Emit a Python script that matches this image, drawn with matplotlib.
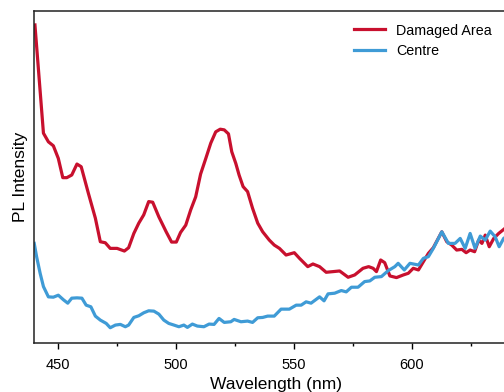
import matplotlib
matplotlib.use("Agg")
import matplotlib.pyplot as plt
from matplotlib.ticker import MultipleLocator

plt.rcParams["font.family"] = ["Liberation Sans", "DejaVu Sans"]

# PL spectra, intensity in arbitrary units
damaged_nm = [440.4, 444.0, 446.1, 448.2, 450.3, 452.2, 453.9, 456.0, 458.2, 460.0,
              463.0, 466.0, 468.1, 470.2, 472.3, 475.2, 478.3, 480.1, 482.3, 484.4,
              486.5, 488.6, 490.3, 492.9, 496.0, 498.3, 500.3, 502.1, 504.3, 506.4,
              508.5, 510.6, 512.8, 514.9, 517.0, 518.9, 520.6, 522.4, 523.8, 525.5,
              526.9, 528.6, 530.5, 532.6, 534.8, 536.9, 539.7, 541.8, 544.0, 546.8,
              550.3, 552.5, 556.0, 558.2, 561.0, 563.8, 566.7, 569.5, 573.1, 575.9,
              579.4, 581.8, 583.7, 585.1, 586.9, 588.6, 590.8, 593.6, 596.5, 598.6,
              600.7, 602.9, 605.0, 607.1, 609.2, 612.8, 614.9, 617.0, 619.1, 621.3,
              623.1, 624.8, 626.7, 628.4, 629.8, 631.2, 632.9, 634.8, 636.9, 639.0,
              640.0]
damaged_pl = [0.958, 0.632, 0.606, 0.594, 0.556, 0.498, 0.498, 0.506, 0.539, 0.531,
              0.452, 0.376, 0.305, 0.302, 0.285, 0.285, 0.277, 0.287, 0.330, 0.361,
              0.386, 0.426, 0.424, 0.380, 0.335, 0.304, 0.304, 0.333, 0.355, 0.401,
              0.440, 0.509, 0.556, 0.602, 0.636, 0.644, 0.642, 0.630, 0.576, 0.541,
              0.506, 0.471, 0.456, 0.406, 0.361, 0.335, 0.310, 0.295, 0.285, 0.265,
              0.272, 0.255, 0.230, 0.238, 0.230, 0.213, 0.215, 0.217, 0.198, 0.205,
              0.225, 0.230, 0.225, 0.215, 0.250, 0.242, 0.202, 0.197, 0.205, 0.210,
              0.225, 0.220, 0.245, 0.270, 0.287, 0.335, 0.305, 0.295, 0.280, 0.282,
              0.272, 0.280, 0.275, 0.310, 0.300, 0.325, 0.290, 0.315, 0.330, 0.342,
              0.348]

centre_nm = [440.1, 441.1, 442.6, 444.0, 446.1, 448.2, 450.3, 452.5, 454.3, 456.0,
             458.2, 460.3, 462.1, 464.1, 466.0, 468.1, 470.6, 472.3, 474.5, 476.6,
             478.7, 480.1, 482.3, 484.4, 486.5, 488.6, 490.8, 492.9, 495.0, 497.1,
             499.3, 501.4, 503.5, 505.0, 507.1, 509.2, 512.0, 514.2, 516.3, 518.4,
             520.6, 523.4, 524.8, 527.7, 530.5, 532.6, 534.8, 536.9, 539.0, 541.8,
             544.7, 546.8, 548.2, 551.1, 553.2, 555.3, 557.4, 561.0, 562.9, 564.6,
             567.4, 570.2, 572.3, 574.5, 577.3, 580.1, 582.3, 584.4, 587.2, 590.1,
             592.9, 594.3, 596.9, 599.3, 602.9, 605.0, 607.1, 609.2, 612.8, 615.6,
             618.4, 620.6, 622.7, 624.8, 626.9, 629.1, 631.2, 633.3, 635.4, 637.1,
             639.0, 640.0]
centre_pl = [0.300, 0.260, 0.210, 0.170, 0.139, 0.138, 0.144, 0.130, 0.120, 0.135,
             0.136, 0.135, 0.114, 0.109, 0.081, 0.069, 0.059, 0.046, 0.054, 0.056,
             0.049, 0.054, 0.077, 0.082, 0.091, 0.097, 0.096, 0.087, 0.069, 0.059,
             0.054, 0.049, 0.054, 0.047, 0.057, 0.051, 0.049, 0.057, 0.056, 0.074,
             0.062, 0.064, 0.071, 0.064, 0.066, 0.062, 0.076, 0.077, 0.081, 0.081,
             0.102, 0.102, 0.102, 0.114, 0.114, 0.124, 0.120, 0.139, 0.127, 0.148,
             0.150, 0.158, 0.154, 0.168, 0.168, 0.185, 0.187, 0.198, 0.200, 0.218,
             0.230, 0.240, 0.220, 0.240, 0.235, 0.255, 0.260, 0.285, 0.335, 0.300,
             0.300, 0.315, 0.285, 0.330, 0.285, 0.322, 0.310, 0.337, 0.320, 0.290,
             0.315, 0.320]

RED = "#c8102e"
BLUE = "#3f9bd6"

fig = plt.figure(figsize=(5.04, 3.92), dpi=100)
ax = fig.add_axes([34 / 504, 49 / 392, 483.8 / 504, 332 / 392])

ax.plot(damaged_nm, damaged_pl, color=RED, lw=2.3, label="Damaged Area")
ax.plot(centre_nm, centre_pl, color=BLUE, lw=2.3, label="Centre")

ax.set_xlim(440, 645)
ax.set_ylim(0, 1)
ax.set_yticks([])
ax.xaxis.set_major_locator(MultipleLocator(50))
ax.xaxis.set_minor_locator(MultipleLocator(25))
ax.tick_params(axis="x", which="major", length=4, width=1, labelsize=10.5, pad=6.5)
ax.tick_params(axis="x", which="minor", length=2.5, width=1)
for side in ("left", "bottom", "top"):
    ax.spines[side].set_linewidth(1.1)
    ax.spines[side].set_color("#222222")
ax.spines["right"].set_visible(False)

ax.set_xlabel("Wavelength (nm)", fontsize=12.5, labelpad=4)
ax.set_ylabel("PL Intensity", fontsize=12.5, labelpad=4)

ax.legend(loc="upper left", bbox_to_anchor=(354 / 504, 1 - 23.5 / 392),
          bbox_transform=fig.transFigure, frameon=False, fontsize=10.3,
          handlelength=2.2, handletextpad=0.75, labelspacing=0.42,
          borderpad=0, borderaxespad=0)

fig.savefig("out.png", dpi=100)
